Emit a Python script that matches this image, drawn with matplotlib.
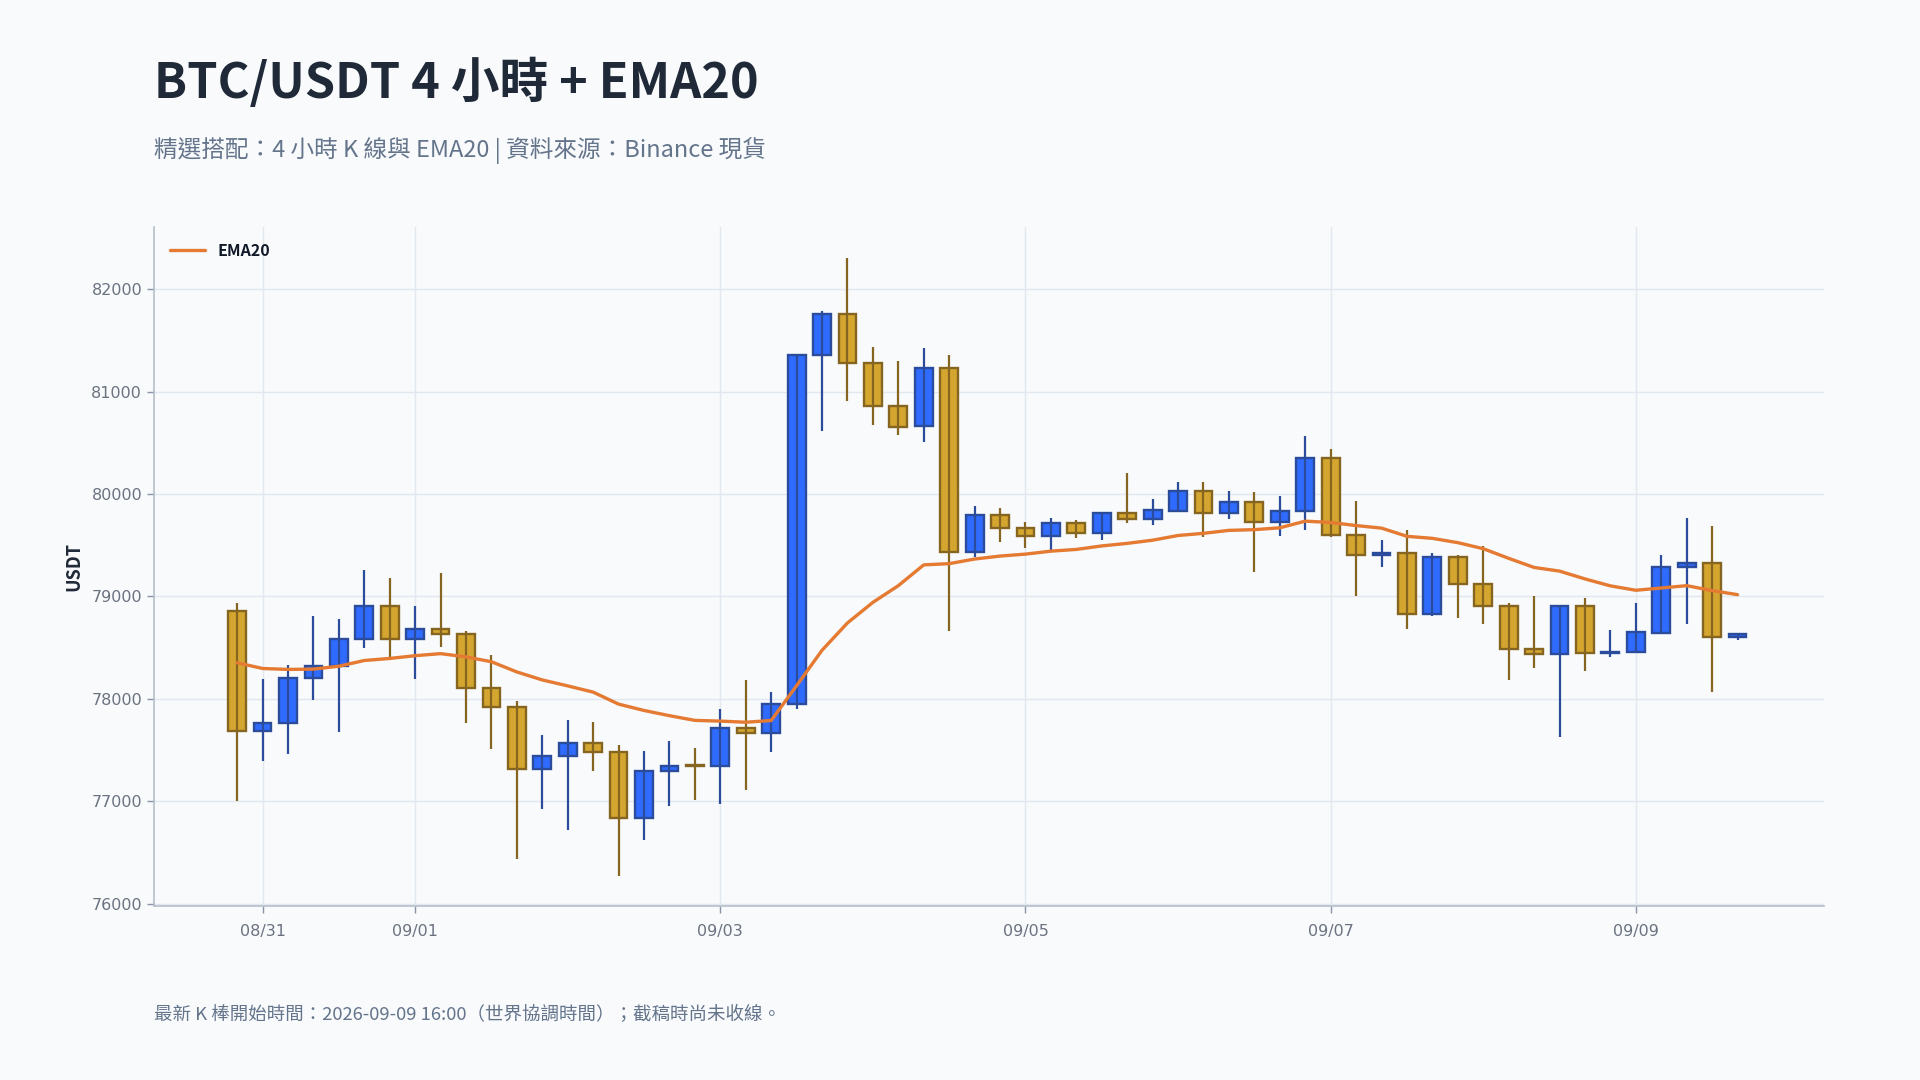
import numpy as np
import pandas as pd
import matplotlib
matplotlib.use("Agg")
import matplotlib.pyplot as plt
import matplotlib.dates as mdates

plt.rcParams['font.family'] = ['Noto Sans CJK TC', 'DejaVu Sans']

# 4 小時 K 線 (08/30 20:00 起, 共 60 根)
start_time = "2026-08-30 20:00"
opens = [78857, 77682, 77764, 78203, 78320, 78584, 78906, 78584, 78681, 78632,
         78105, 77924, 77315, 77445, 77572, 77484, 76834, 77299, 77350, 77344,
         77719, 77667, 77950, 81356, 81759, 81280, 80858, 80660, 81232, 79432,
         79797, 79673, 79589, 79719, 79618, 79817, 79755, 79833, 80032, 79813,
         79924, 79723, 79833, 80353, 79602, 79404, 79427, 78828, 79381, 79124,
         78909, 78489, 78437, 78909, 78447, 78460, 78645, 79289, 79328, 78603]
highs = [78935, 78190, 78326, 78805, 78776, 79254, 79176, 78902, 79224, 78658,
         78424, 77979, 77647, 77793, 77774, 77549, 77491, 77589, 77520, 77901,
         78184, 78067, 81370, 81792, 82302, 81434, 81297, 81424, 81356, 79882,
         79862, 79725, 79765, 79745, 79823, 80204, 79950, 80116, 80116, 80028,
         80019, 79976, 80565, 80439, 79931, 79550, 79648, 79420, 79404, 79489,
         78935, 79003, 78909, 78984, 78669, 78935, 79404, 79762, 79687, 78640]
lows = [77000, 77393, 77461, 77988, 77676, 78496, 78401, 78193, 78505, 77764,
        77510, 76433, 76928, 76723, 77299, 76274, 76616, 76957, 77013, 76977,
        77114, 77484, 77905, 80617, 80910, 80675, 80575, 80510, 78666, 79387,
        79528, 79477, 79452, 79573, 79553, 79719, 79700, 79833, 79582, 79758,
        79241, 79592, 79650, 79576, 79006, 79289, 78681, 78808, 78792, 78733,
        78188, 78300, 77630, 78275, 78411, 78460, 78645, 78733, 78070, 78577]
closes = [77682, 77764, 78203, 78320, 78584, 78906, 78584, 78681, 78629, 78105,
          77920, 77315, 77445, 77572, 77481, 76834, 77299, 77348, 77348, 77719,
          77667, 77953, 81355, 81759, 81278, 80857, 80656, 81232, 79432, 79797,
          79667, 79589, 79719, 79618, 79816, 79755, 79840, 80031, 79814, 79924,
          79722, 79836, 80353, 79599, 79404, 79427, 78828, 79381, 79121, 78906,
          78483, 78437, 78909, 78450, 78460, 78648, 79290, 79328, 78603, 78636]
ema20 = [78352, 78296, 78287, 78290, 78318, 78374, 78394, 78421, 78441, 78409,
         78362, 78262, 78184, 78126, 78065, 77948, 77886, 77835, 77789, 77782,
         77771, 77788, 78128, 78474, 78741, 78942, 79105, 79308, 79320, 79365,
         79394, 79413, 79442, 79459, 79493, 79518, 79549, 79595, 79616, 79645,
         79652, 79670, 79735, 79722, 79692, 79667, 79587, 79567, 79525, 79466,
         79372, 79283, 79247, 79171, 79103, 79060, 79082, 79105, 79057, 79017]
tick_dates = ["2026-08-31", "2026-09-01", "2026-09-03", "2026-09-05", "2026-09-07", "2026-09-09"]

UP_FILL, UP_EDGE = '#2F6BFF', '#2B4C9B'
DN_FILL, DN_EDGE = '#D4A62F', '#866521'
BG = '#F8FAFC'

times = pd.date_range(start_time, periods=len(opens), freq='4h')
x = mdates.date2num(times)
o = np.array(opens, float)
c = np.array(closes, float)
h = np.array(highs, float)
l = np.array(lows, float)
up = c > o

fig = plt.figure(figsize=(19.2, 10.8), dpi=100, facecolor=BG)
ax = fig.add_axes([0.0802, 0.161, 0.8698, 0.629])
ax.set_facecolor(BG)

w = 0.70 / 6
bottoms = np.minimum(o, c)
heights = np.maximum(np.abs(c - o), 8)
fills = np.where(up, UP_FILL, DN_FILL)
edges = np.where(up, UP_EDGE, DN_EDGE)
ax.bar(x, heights, width=w, bottom=bottoms, color=fills, edgecolor=edges,
       linewidth=1.7, zorder=3)
ax.vlines(x, l, h, colors=edges, linewidth=1.6, zorder=4)

ax.plot(x, ema20, color='#E57A33', linewidth=2.4, zorder=5, label='EMA20',
        solid_capstyle='round')

ax.set_ylim(75975, 82610)
x0 = mdates.date2num(pd.Timestamp(start_time))
ax.set_xlim(x0 - 3.27 / 6, x0 + 62.4 / 6)
ax.set_yticks([76000, 77000, 78000, 79000, 80000, 81000, 82000])
ax.set_xticks(mdates.date2num(pd.to_datetime(tick_dates)))
ax.xaxis.set_major_formatter(mdates.DateFormatter('%m/%d'))

ax.grid(True, color='#E2E8F0', linewidth=1.0, zorder=0)
ax.set_axisbelow(True)
for s in ['top', 'right']:
    ax.spines[s].set_visible(False)
for s in ['left', 'bottom']:
    ax.spines[s].set_color('#B4BDCB')
    ax.spines[s].set_linewidth(1.2)
ax.tick_params(axis='both', colors='#8A94A6', labelcolor='#6B7280',
               labelsize=11.5, length=5, width=1, labelfontfamily='DejaVu Sans')
ax.tick_params(axis='x', pad=8)

ax.set_ylabel('USDT', fontsize=13, fontweight='bold', color='#1F2937', labelpad=6)

leg = ax.legend(loc='upper left', frameon=False, fontsize=11.5, handlelength=2.2,
                borderaxespad=0.6)
for t in leg.get_texts():
    t.set_fontweight('bold')
    t.set_color('#111827')

fig.text(0.0802, 0.909, 'BTC/USDT 4 小時 + EMA20', fontsize=35, fontweight='bold',
         color='#1F2937', va='baseline')
fig.text(0.0802, 0.855, '精選搭配：4 小時 K 線與 EMA20 | 資料來源：Binance 現貨',
         fontsize=17, color='#64748B', va='baseline')
fig.text(0.0802, 0.0556, '最新 K 棒開始時間：2026-09-09 16:00（世界協調時間）；截稿時尚未收線。',
         fontsize=13.3, color='#64748B', va='baseline')

fig.savefig('out.png', dpi=100, facecolor=BG)
